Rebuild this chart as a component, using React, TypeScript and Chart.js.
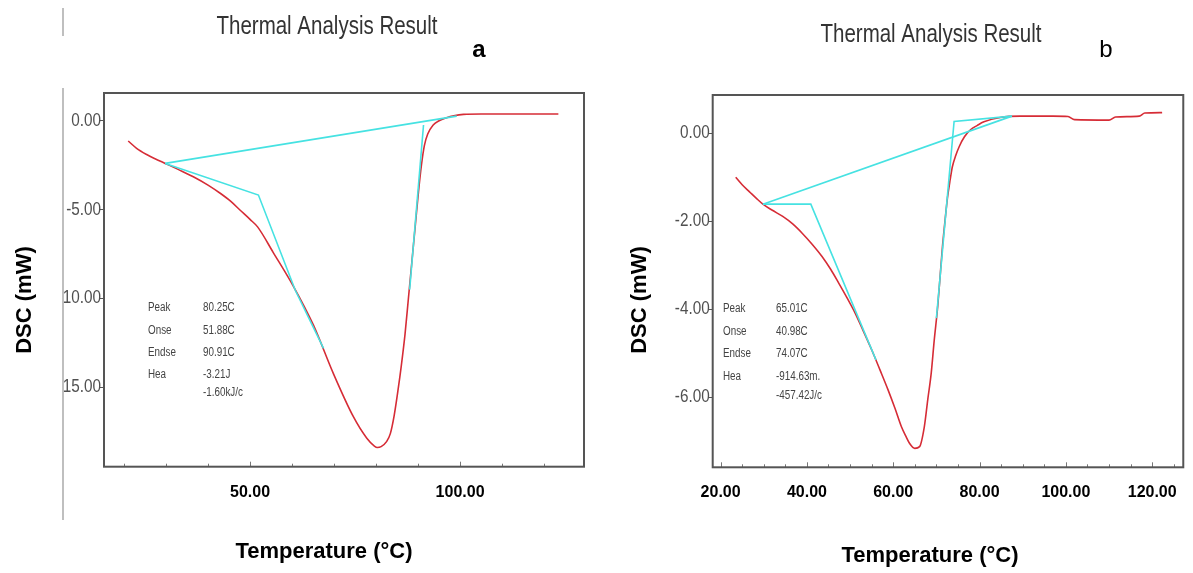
import React, { useEffect, useRef } from 'react';
import { Chart, registerables } from 'chart.js';

Chart.register(...registerables);

const SANS = "'Liberation Sans', Arial, Helvetica, sans-serif";

// ---------- Panel a ----------
const aTemp = [21.0, 23.0, 25.4, 27.5, 29.8, 33.0, 36.5, 40.0, 42.9, 45.5, 47.6, 50.0, 51.8, 55.5, 60.3, 65.1, 69.8, 74.6, 77.8, 79.6, 80.3, 81.2, 82.5, 83.4, 84.3, 85.2, 86.0, 86.9, 87.7, 88.5, 89.3, 90.1, 90.8, 91.5, 92.3, 93.6, 95.0, 96.8, 98.5, 100.8, 105.0, 110.0, 115.0, 120.0, 123.4];
const aDsc = [-1.14, -1.55, -1.9, -2.15, -2.4, -2.75, -3.15, -3.62, -4.08, -4.55, -5.02, -5.55, -5.97, -7.4, -9.3, -11.5, -14.2, -16.65, -17.86, -18.3, -18.38, -18.33, -18.05, -17.6, -16.6, -15.2, -13.8, -12.0, -10.0, -8.0, -6.0, -4.0, -2.5, -1.4, -0.75, -0.24, 0.0, 0.17, 0.28, 0.36, 0.38, 0.38, 0.38, 0.38, 0.38];
const aBaselineTemp = [29.8, 99.2];
const aBaselineDsc = [-2.4, 0.26];
const aOnsetTemp = [29.8, 52.0, 60.8, 67.5];
const aOnsetDsc = [-2.4, -4.18, -9.55, -12.8];
const aEndsetTemp = [91.3, 88.0];
const aEndsetDsc = [-0.24, -9.5];
const aYTicks = [0, -5, -10, -15];
const aXTicks = [50, 100];
const aMinorX = [20, 30, 40, 50, 60, 70, 80, 90, 100, 110, 120];
const aInfoLabels = ['Peak', 'Onse', 'Endse', 'Hea', ''];
const aInfoValues = ['80.25C', '51.88C', '90.91C', '-3.21J', '-1.60kJ/c'];

// ---------- Panel b ----------
const bTemp = [23.5, 25.0, 26.7, 28.3, 29.8, 32.0, 34.4, 36.7, 38.9, 41.2, 43.5, 45.5, 47.4, 49.3, 51.2, 53.1, 55.0, 56.9, 58.8, 60.4, 61.9, 63.0, 63.8, 65.0, 66.1, 67.2, 68.0, 68.8, 69.5, 70.3, 70.9, 71.4, 72.0, 72.6, 73.2, 73.7, 74.5, 75.3, 76.5, 77.9, 79.5, 81.0, 84.8, 89.4, 97.0, 100.5, 102.0, 110.0, 111.5, 117.0, 118.3, 122.3];
const bDsc = [-1.0, -1.17, -1.33, -1.48, -1.61, -1.75, -1.89, -2.06, -2.27, -2.52, -2.8, -3.09, -3.41, -3.74, -4.09, -4.5, -4.92, -5.37, -5.83, -6.25, -6.67, -6.9, -7.05, -7.16, -7.12, -6.67, -6.05, -5.45, -4.7, -3.94, -3.2, -2.58, -1.98, -1.44, -1.05, -0.76, -0.5, -0.3, -0.08, 0.08, 0.18, 0.26, 0.36, 0.39, 0.39, 0.38, 0.31, 0.3, 0.37, 0.39, 0.46, 0.47];
const bBaselineTemp = [29.8, 87.5];
const bBaselineDsc = [-1.61, 0.39];
const bOnsetTemp = [29.8, 40.9, 56.0];
const bOnsetDsc = [-1.61, -1.61, -5.15];
const bEndsetTemp = [87.5, 74.1, 70.0];
const bEndsetDsc = [0.39, 0.27, -4.2];
const bYTicks = [0, -2, -4, -6];
const bXTicks = [20, 40, 60, 80, 100, 120];
const bMinorX = [20, 25, 30, 35, 40, 45, 50, 55, 60, 65, 70, 75, 80, 85, 90, 95, 100, 105, 110, 115, 120, 125];
const bInfoLabels = ['Peak', 'Onse', 'Endse', 'Hea', ''];
const bInfoValues = ['65.01C', '40.98C', '74.07C', '-914.63m.', '-457.42J/c'];

const TITLE = 'Thermal Analysis Result';
const X_TITLE = 'Temperature (°C)';
const Y_TITLE = 'DSC (mW)';

const pts = (xs: number[], ys: number[]) => xs.map((x, i) => ({ x, y: ys[i] }));

const RED = 'rgb(214, 44, 54)';
const CYAN = 'rgb(70, 226, 226)';

type Panel = {
  offsetX: number;
  width: number;
  height: number;
  area: { left: number; top: number; right: number; bottom: number };
  xMin: number; xMax: number; yMin: number; yMax: number;
  temp: number[]; dsc: number[];
  lines: { t: number[]; d: number[] }[];
  yTicks: number[]; xTicks: number[]; minorX: number[];
  infoLabels: string[]; infoValues: string[];
  infoLabelX: number; infoValueX: number; infoRows: number[];
  title: { x: number; y: number };
  letter: { text: string; x: number; y: number; bold: boolean };
  yTitle: { x: number; y: number };
  xTitle: { x: number; y: number };
  clipLeft?: number;
  sideLines?: { x: number; y1: number; y2: number }[];
};

const panels: Panel[] = [
  {
    offsetX: 0, width: 600, height: 573,
    area: { left: 104, top: 93, right: 584, bottom: 466.7 },
    xMin: 15.24, xMax: 129.5, yMin: -19.46, yMax: 1.56,
    temp: aTemp, dsc: aDsc,
    lines: [
      { t: aBaselineTemp, d: aBaselineDsc },
      { t: aOnsetTemp, d: aOnsetDsc },
      { t: aEndsetTemp, d: aEndsetDsc },
    ],
    yTicks: aYTicks, xTicks: aXTicks, minorX: aMinorX,
    infoLabels: aInfoLabels, infoValues: aInfoValues,
    infoLabelX: 148, infoValueX: 203, infoRows: [308, 331, 353, 375, 393],
    title: { x: 327, y: 27 },
    letter: { text: 'a', x: 479, y: 50, bold: true },
    yTitle: { x: 25, y: 300 },
    xTitle: { x: 324, y: 552 },
    clipLeft: 63,
    sideLines: [{ x: 63, y1: 8, y2: 36 }, { x: 63, y1: 88, y2: 520 }],
  },
  {
    offsetX: 600, width: 593, height: 573,
    area: { left: 112.7, top: 95, right: 588, bottom: 467.3 },
    xMin: 18.17, xMax: 127.2, yMin: -7.59, yMax: 0.87,
    temp: bTemp, dsc: bDsc,
    lines: [
      { t: bBaselineTemp, d: bBaselineDsc },
      { t: bOnsetTemp, d: bOnsetDsc },
      { t: bEndsetTemp, d: bEndsetDsc },
    ],
    yTicks: bYTicks, xTicks: bXTicks, minorX: bMinorX,
    infoLabels: bInfoLabels, infoValues: bInfoValues,
    infoLabelX: 123, infoValueX: 176, infoRows: [309, 332, 354, 377, 396],
    title: { x: 331, y: 35 },
    letter: { text: 'b', x: 506, y: 50, bold: false },
    yTitle: { x: 40, y: 300 },
    xTitle: { x: 330, y: 556 },
  },
];

function squishText(ctx: CanvasRenderingContext2D, text: string, x: number, y: number, sx: number) {
  ctx.save();
  ctx.translate(x, y);
  ctx.scale(sx, 1);
  ctx.fillText(text, 0, 0);
  ctx.restore();
}

function buildChart(canvas: HTMLCanvasElement, p: Panel) {
  const decor = {
    id: 'decor',
    beforeDraw(chart: any) {
      if (p.clipLeft != null) {
        const ctx = chart.ctx;
        ctx.save();
        ctx.beginPath();
        ctx.rect(p.clipLeft, 0, chart.width, chart.height);
        ctx.clip();
      }
    },
    afterDraw(chart: any) {
      const ctx: CanvasRenderingContext2D = chart.ctx;
      const { left, top, right, bottom } = chart.chartArea;
      const xs = chart.scales.x;
      const ys = chart.scales.y;
      // y tick labels (narrow software font), still inside the clip of panel a
      ctx.save();
      ctx.fillStyle = '#505050';
      ctx.font = `18px ${SANS}`;
      ctx.textAlign = 'right';
      ctx.textBaseline = 'middle';
      ys.ticks.forEach((t: any) => {
        squishText(ctx, Number(t.value).toFixed(2), left - 3, ys.getPixelForValue(t.value), 0.85);
      });
      ctx.restore();
      if (p.clipLeft != null) ctx.restore();

      ctx.save();
      // inner minor ticks
      ctx.strokeStyle = '#777';
      ctx.lineWidth = 1;
      p.minorX.forEach((v) => {
        const px = Math.round(xs.getPixelForValue(v)) + 0.5;
        const len = p.xTicks.includes(v) ? 5 : 3;
        ctx.beginPath();
        ctx.moveTo(px, bottom);
        ctx.lineTo(px, bottom - len);
        ctx.stroke();
      });
      // frame
      ctx.strokeStyle = '#555';
      ctx.lineWidth = 2;
      ctx.strokeRect(left, top, right - left, bottom - top);
      // side lines
      if (p.sideLines) {
        ctx.strokeStyle = '#aaa';
        ctx.lineWidth = 1.5;
        p.sideLines.forEach((s) => {
          ctx.beginPath();
          ctx.moveTo(s.x, s.y1);
          ctx.lineTo(s.x, s.y2);
          ctx.stroke();
        });
      }
      // info text
      ctx.fillStyle = '#444';
      ctx.font = `12px ${SANS}`;
      ctx.textAlign = 'left';
      ctx.textBaseline = 'middle';
      p.infoRows.forEach((y, i) => {
        if (p.infoLabels[i]) squishText(ctx, p.infoLabels[i], p.infoLabelX, y, 0.82);
        if (p.infoValues[i]) squishText(ctx, p.infoValues[i], p.infoValueX, y, 0.82);
      });
      // chart title
      ctx.fillStyle = '#333';
      ctx.font = `25px ${SANS}`;
      ctx.textAlign = 'center';
      squishText(ctx, TITLE, p.title.x, p.title.y, 0.82);
      // panel letter
      ctx.fillStyle = '#000';
      ctx.font = `${p.letter.bold ? 'bold ' : ''}24px ${SANS}`;
      ctx.fillText(p.letter.text, p.letter.x, p.letter.y);
      // axis titles
      ctx.font = `bold 22px ${SANS}`;
      ctx.fillText(X_TITLE, p.xTitle.x, p.xTitle.y);
      ctx.save();
      ctx.translate(p.yTitle.x, p.yTitle.y);
      ctx.rotate(-Math.PI / 2);
      ctx.fillText(Y_TITLE, 0, 0);
      ctx.restore();
      ctx.restore();
    },
  };

  const datasets: any[] = p.lines.map((l) => ({
    data: pts(l.t, l.d),
    showLine: true,
    borderColor: CYAN,
    borderWidth: 1.6,
    pointRadius: 0,
    tension: 0,
  }));
  datasets.push({
    data: pts(p.temp, p.dsc),
    showLine: true,
    borderColor: RED,
    borderWidth: 1.6,
    pointRadius: 0,
    cubicInterpolationMode: 'monotone',
  });

  const a = p.area;
  return new Chart(canvas, {
    type: 'scatter',
    data: { datasets },
    plugins: [decor],
    options: {
      animation: false,
      responsive: false,
      devicePixelRatio: 1,
      events: [],
      layout: { padding: { left: 0, top: a.top, right: p.width - a.right, bottom: 0 } },
      plugins: { legend: { display: false }, tooltip: { enabled: false }, title: { display: false } },
      scales: {
        x: {
          type: 'linear',
          min: p.xMin,
          max: p.xMax,
          afterBuildTicks: (s: any) => { s.ticks = p.xTicks.map((v) => ({ value: v })); },
          afterFit: (s: any) => { s.height = p.height - a.bottom; },
          grid: { display: false, drawTicks: false },
          border: { display: false },
          ticks: {
            padding: 16,
            color: '#000',
            font: { family: SANS, size: 16, weight: 'bold' },
            callback: (v: any) => Number(v).toFixed(2),
            maxRotation: 0,
          },
        },
        y: {
          type: 'linear',
          min: p.yMin,
          max: p.yMax,
          afterBuildTicks: (s: any) => { s.ticks = p.yTicks.map((v) => ({ value: v })); },
          afterFit: (s: any) => { s.width = a.left; },
          grid: { display: true, drawOnChartArea: false, drawTicks: true, tickLength: 4, color: '#555' },
          border: { display: false },
          ticks: { display: false },
        },
      },
    } as any,
  });
}

function PanelCanvas({ p }: { p: Panel }) {
  const ref = useRef<HTMLCanvasElement | null>(null);
  useEffect(() => {
    if (!ref.current) return;
    const chart = buildChart(ref.current, p);
    return () => chart.destroy();
  }, [p]);
  return (
    <canvas
      ref={ref}
      width={p.width}
      height={p.height}
      style={{ position: 'absolute', left: p.offsetX, top: 0, width: p.width, height: p.height }}
    />
  );
}

export default function App() {
  return (
    <div style={{ position: 'fixed', left: 0, top: 0, width: 1193, height: 573, background: '#fff', overflow: 'hidden' }}>
      {panels.map((p, i) => (
        <PanelCanvas key={i} p={p} />
      ))}
    </div>
  );
}
